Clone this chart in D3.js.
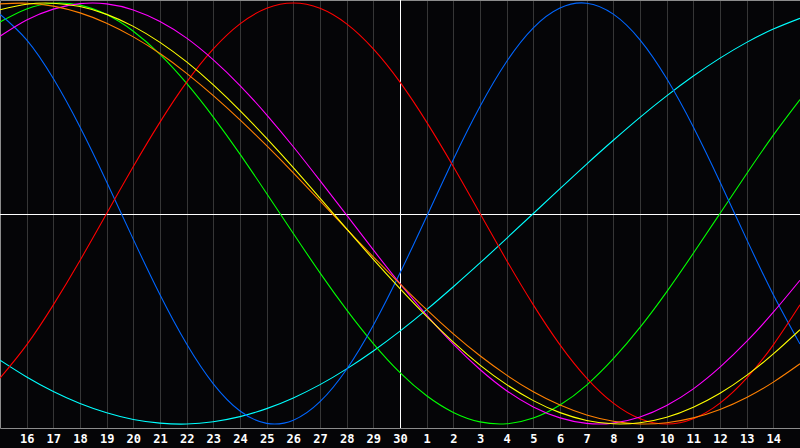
<!DOCTYPE html>
<html>
<head>
<meta charset="utf-8">
<script src="https://d3js.org/d3.v7.min.js"></script>
<style>
  html, body { margin: 0; padding: 0; background: #050507; }
  svg { display: block; }
</style>
</head>
<body>
<div id="canvas"></div>
<script>
// day labels under each gridline (index 1..29), index 0 and 30 are the 15th
var dayLabels = [16, 17, 18, 19, 20, 21, 22, 23, 24, 25, 26, 27, 28, 29, 30,
                 1, 2, 3, 4, 5, 6, 7, 8, 9, 10, 11, 12, 13, 14];

// one value per day, index 0..30 (-1 .. 1)
var blueVals = [0.947, 0.825, 0.641, 0.411, 0.150, -0.123, -0.386, -0.620, -0.809,
  -0.938, -0.997, -0.982, -0.894, -0.740, -0.531, -0.283, -0.014, 0.257, 0.508, 0.722,
  0.882, 0.976, 0.999, 0.947, 0.825, 0.641, 0.411, 0.150, -0.123, -0.386, -0.620];
var redVals = [-0.782, -0.624, -0.434, -0.223, 0.000, 0.223, 0.434, 0.624, 0.782,
  0.901, 0.975, 1.000, 0.975, 0.901, 0.782, 0.624, 0.434, 0.223, 0.000, -0.223, -0.434,
  -0.624, -0.782, -0.901, -0.975, -1.000, -0.975, -0.901, -0.782, -0.624, -0.434];
var cyanVals = [-0.697, -0.777, -0.846, -0.903, -0.947, -0.979, -0.996, -1.000, -0.989,
  -0.965, -0.927, -0.876, -0.813, -0.738, -0.653, -0.559, -0.457, -0.348, -0.235, -0.118,
  0.000, 0.118, 0.235, 0.348, 0.457, 0.559, 0.653, 0.738, 0.813, 0.876, 0.927];
var greenVals = [0.910, 0.972, 0.999, 0.990, 0.945, 0.866, 0.756, 0.618, 0.458, 0.282,
  0.095, -0.095, -0.282, -0.458, -0.618, -0.756, -0.866, -0.945, -0.990, -0.999, -0.972,
  -0.910, -0.815, -0.690, -0.541, -0.372, -0.189, 0.000, 0.189, 0.372, 0.541];
var magentaVals = [0.842, 0.919, 0.971, 0.997, 0.996, 0.967, 0.912, 0.833, 0.730, 0.608,
  0.469, 0.317, 0.156, -0.008, -0.173, -0.333, -0.483, -0.621, -0.741, -0.842, -0.919,
  -0.971, -0.997, -0.996, -0.967, -0.912, -0.833, -0.730, -0.608, -0.469, -0.317];
var yellowVals = [0.968, 0.994, 0.999, 0.983, 0.946, 0.889, 0.813, 0.720, 0.611, 0.489,
  0.357, 0.218, 0.073, -0.073, -0.218, -0.357, -0.489, -0.611, -0.720, -0.813, -0.889,
  -0.946, -0.983, -0.999, -0.994, -0.968, -0.920, -0.854, -0.769, -0.667, -0.552];
var orangeVals = [0.996, 0.999, 0.985, 0.953, 0.904, 0.839, 0.760, 0.666, 0.560, 0.445,
  0.322, 0.193, 0.060, -0.074, -0.206, -0.334, -0.457, -0.572, -0.676, -0.768, -0.847,
  -0.910, -0.957, -0.987, -1.000, -0.994, -0.971, -0.931, -0.874, -0.801, -0.714];

var series = [
  { name: "cyan", color: "#00ffff", values: cyanVals },
  { name: "green", color: "#00ff00", values: greenVals },
  { name: "blue", color: "#0066ff", values: blueVals },
  { name: "red", color: "#ff0000", values: redVals },
  { name: "magenta", color: "#ff00ff", values: magentaVals },
  { name: "orange", color: "#ff8000", values: orangeVals },
  { name: "yellow", color: "#ffff00", values: yellowVals }
];

var width = 800, height = 448;
var plotH = 428;

var svg = d3.select("#canvas")
  .append("svg")
    .attr("width", width)
    .attr("height", height);

svg.append("rect")
  .attr("width", width)
  .attr("height", height)
  .attr("fill", "#050507");

var x = d3.scaleLinear().domain([0, 30]).range([0, width]);
var y = d3.scaleLinear().domain([-1, 1]).range([424, 3]);

var crisp = function(v) { return Math.round(v) + 0.5; };

// day gridlines
var gridIdx = d3.range(1, 30).filter(function(i) { return i !== 15; });
svg.append("g")
  .selectAll("line")
  .data(gridIdx)
  .enter()
  .append("line")
    .attr("x1", function(d) { return crisp(x(d)); })
    .attr("x2", function(d) { return crisp(x(d)); })
    .attr("y1", 0)
    .attr("y2", plotH)
    .attr("stroke", "#363636")
    .attr("stroke-width", 1);

// frame (top, left, bottom)
svg.append("path")
  .attr("d", "M800,0.5H0.5V" + (plotH + 0.5) + "H800")
  .attr("fill", "none")
  .attr("stroke", "#8c8c8c")
  .attr("stroke-width", 1);

// centre cross
svg.append("line")
  .attr("x1", crisp(x(15))).attr("x2", crisp(x(15)))
  .attr("y1", 0).attr("y2", plotH)
  .attr("stroke", "#ffffff");
svg.append("line")
  .attr("x1", 0).attr("x2", width)
  .attr("y1", crisp(y(0))).attr("y2", crisp(y(0)))
  .attr("stroke", "#ffffff");

// curves
var line = d3.line()
  .x(function(d, i) { return x(i); })
  .y(function(d) { return y(d); })
  .curve(d3.curveNatural);

svg.append("g")
  .selectAll("path")
  .data(series)
  .enter()
  .append("path")
    .attr("d", function(d) { return line(d.values); })
    .attr("fill", "none")
    .attr("stroke", function(d) { return d.color; })
    .attr("stroke-width", 1.1);

// day labels
var axis = d3.axisBottom(x)
  .tickValues(d3.range(1, 30))
  .tickSize(0)
  .tickPadding(0)
  .tickFormat(function(d) { return dayLabels[d - 1]; });

var ax = svg.append("g")
  .attr("transform", "translate(0," + 434 + ")")
  .call(axis);
ax.select(".domain").remove();
ax.selectAll("text")
  .attr("fill", "#ffffff")
  .attr("dy", "0.72em")
  .style("font-family", "'DejaVu Sans Mono', monospace")
  .style("font-weight", "bold")
  .style("font-size", "12px");
</script>
</body>
</html>
